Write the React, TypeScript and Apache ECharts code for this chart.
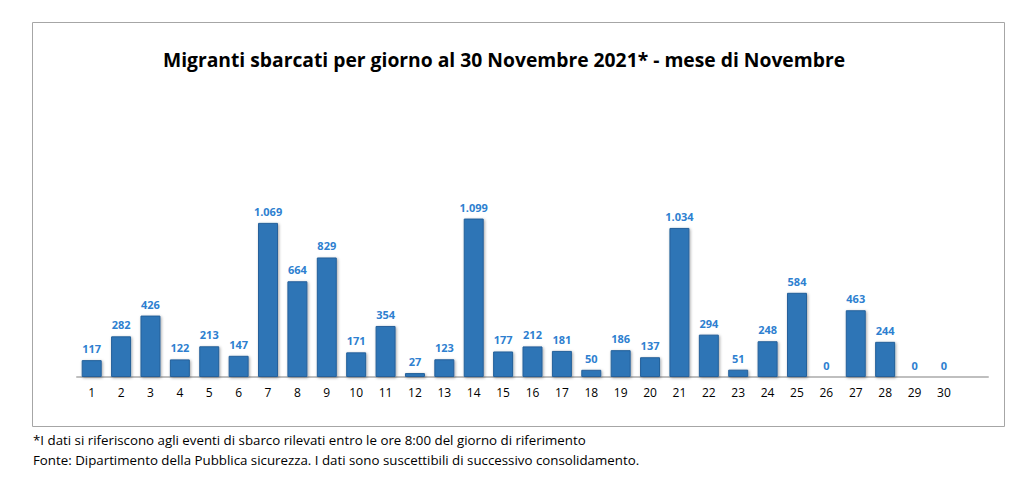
import React, { useEffect, useRef } from "react";
import * as echarts from "echarts";

const days = ["1","2","3","4","5","6","7","8","9","10","11","12","13","14","15","16","17","18","19","20","21","22","23","24","25","26","27","28","29","30",""];
const migranti = [117,282,426,122,213,147,1069,664,829,171,354,27,123,1099,177,212,181,50,186,137,1034,294,51,248,584,0,463,244,0,0,null];
const titleText = "Migranti sbarcati per giorno al 30 Novembre 2021* - mese di Novembre";
const note1 = "*I dati si riferiscono agli eventi di sbarco rilevati entro le ore 8:00 del giorno di riferimento";
const note2 = "Fonte: Dipartimento della Pubblica sicurezza. I dati sono suscettibili di successivo consolidamento.";

const fmt = (v: number) => String(v).replace(/\B(?=(\d{3})+(?!\d))/g, ".");

export default function App() {
  const ref = useRef<HTMLDivElement>(null);
  useEffect(() => {
    const chart = echarts.init(ref.current!, null, { renderer: "svg" });
    chart.setOption({
      animation: false,
      backgroundColor: "#ffffff",
      title: {
        text: titleText,
        left: 499,
        top: 45,
        textAlign: "center",
        textStyle: { fontFamily: "Open Sans", fontWeight: "bold", fontSize: 19.3, color: "#000" },
      },
      grid: { left: 77, right: 1019 - 988, top: 204, bottom: 106 },
      xAxis: {
        type: "category",
        data: days,
        axisLine: { lineStyle: { color: "#BFBFBF", width: 2 } },
        axisTick: { show: false },
        axisLabel: { color: "#000", fontSize: 12, fontFamily: "Open Sans", margin: 9, interval: 0 },
      },
      yAxis: { type: "value", min: 0, max: 1200, show: false, splitLine: { show: false } },
      graphic: [
        { type: "rect", shape: { x: 32.5, y: 22.5, width: 972, height: 404 }, style: { fill: "none", stroke: "#A6A6A6", lineWidth: 1 } },
        { type: "text", x: 33, y: 433, style: { text: note1, font: "13.3px 'Open Sans'", fill: "#000" } },
        { type: "text", x: 33, y: 453, style: { text: note2, font: "13.3px 'Open Sans'", fill: "#000" } },
      ],
      series: [
        {
          type: "bar",
          data: migranti,
          barWidth: "68%",
          itemStyle: {
            color: "#2E75B6",
            borderColor: "#25609A",
            borderWidth: 1,
            shadowColor: "rgba(0,0,0,0.35)",
            shadowBlur: 3,
            shadowOffsetX: 1,
            shadowOffsetY: 1,
          },
          label: {
            show: true,
            position: "top",
            distance: 6,
            color: "#2E7FD0",
            fontWeight: "bold",
            fontSize: 11,
            fontFamily: "Open Sans",
            formatter: (p: any) => (p.value == null ? "" : fmt(p.value)),
          },
        },
      ],
    });
    return () => chart.dispose();
  }, []);
  return <div ref={ref} style={{ position: "fixed", left: 0, top: 0, width: 1019, height: 483 }} />;
}
